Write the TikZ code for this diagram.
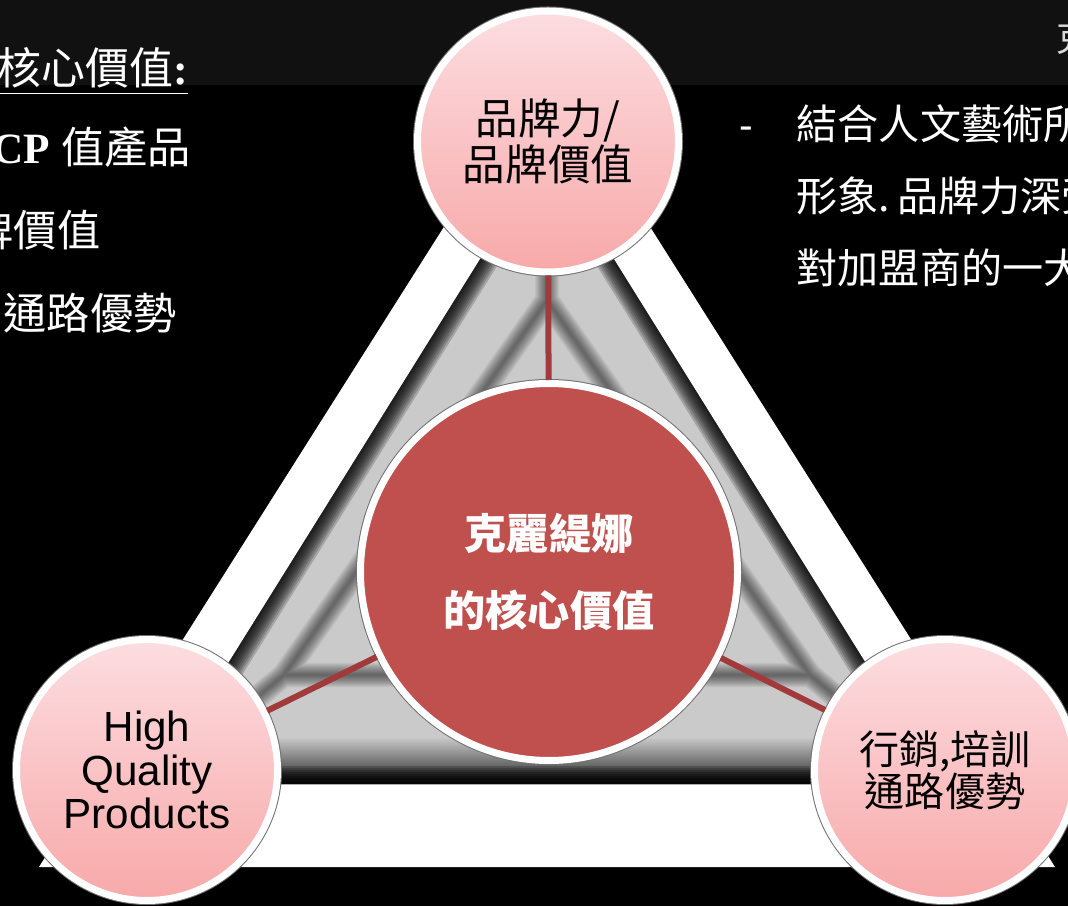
\documentclass[tikz,border=0pt]{standalone}
\usepackage{fontspec}
\setmainfont{Liberation Serif}
\setsansfont{Liberation Sans}
\newfontfamily\cjk{Noto Sans CJK TC}

\definecolor{band}{HTML}{111111}
\definecolor{bevel}{HTML}{CACACA}
\definecolor{pinktop}{HTML}{FCDDE1}
\definecolor{pinkbot}{HTML}{F8A9A9}
\definecolor{corered}{HTML}{C0504D}
\definecolor{linkred}{HTML}{A13B3B}
\definecolor{ringshade}{HTML}{707070}
\definecolor{titlegray}{HTML}{D9D9D9}

\begin{document}
\begin{tikzpicture}[
        petal/.style = {circle, minimum size=2.61cm, inner sep=0pt, align=center,
            top color=pinktop, bottom color=pinkbot, draw=white, line width=0.7mm,
            preaction={draw=ringshade, line width=0.9mm}},
        hub/.style = {circle, minimum size=3.77cm, inner sep=0pt, align=center,
            fill=corered, draw=white, line width=0.7mm, text=white,
            preaction={draw=ringshade, line width=0.9mm}},
        link/.style = {draw=linkred, line width=0.6mm},
        txt/.style = {anchor=base west, inner sep=0pt, text=white},
        desc/.style = {txt, font=\cjk\fontsize{11.7}{14}\selectfont}]
        \useasboundingbox (0,0) rectangle (10.68,9.06);
        \clip (0,0) rectangle (10.68,9.06);
        \fill[black] (0,0) rectangle (10.68,9.06);
        \fill[band] (0,8.21) rectangle (10.68,9.06);

        % white frame and grey bevelled triangle
        \fill[white] (0.39,0.39) -- (10.55,0.39) -- (5.47,8.42) -- cycle;
        \begin{scope}
            \clip (1.53,1.22) -- (9.41,1.22) -- (5.47,7.54) -- cycle;
            \fill[bevel] (0,0) rectangle (10.68,9.06);
            \shade[top color=bevel, bottom color=black!85] (0,1.22) rectangle (10.68,1.69);
            \foreach \w in {0.2,0.4,...,2.4}
                \draw[black, opacity=0.05, line width=\w mm, line join=round]
                    (2.84,2.31) -- (8.10,2.31) -- (5.47,6.06) -- cycle
                    (1.53,1.22) -- (2.84,2.31) (9.41,1.22) -- (8.10,2.31) (5.47,7.54) -- (5.47,6.06);
            \foreach \w in {0.4,0.8,...,4.0}
                \draw[black, opacity=0.18, line width=\w mm]
                    (1.53,1.22) -- (9.41,1.22) -- (5.47,7.54) -- cycle;
        \end{scope}

        \node[hub, font=\cjk\bfseries\fontsize{12}{21.9}\selectfont] (core) at (5.49,3.34) {克麗緹娜\\的核心價值};
        \node[petal, font=\cjk\fontsize{12.1}{12.3}\selectfont] (brand) at (5.48,7.645) {品牌力/\\品牌價值};
        \node[petal, font=\sffamily\fontsize{12}{12.4}\selectfont] (quality) at (1.47,1.36) {High\\Quality\\Products};
        \node[petal, font=\cjk\fontsize{11.4}{12}\selectfont] (channel) at (9.45,1.36) {行銷,培訓\\通路優勢};

        \draw[link] (core) -- (brand);
        \draw[link] (core) -- (quality);
        \draw[link] (core) -- (channel);

        % text left and right of the triangle
        \node[txt] (head) at (-0.03,8.21) {\fontsize{12.5}{15}\selectfont\underline{{\cjk 核心價值}\textbf{:}}};
        \node[txt] (val1) at (-0.08,7.42) {\fontsize{12.3}{15}\selectfont\textbf{CP} {\cjk 值產品}};
        \node[txt, font=\cjk\fontsize{12.3}{15}\selectfont] (val2) at (-0.30,6.59) {牌價值};
        \node[txt, font=\cjk\fontsize{12.3}{15}\selectfont] (val3) at (0.03,5.76) {通路優勢};

        \node[txt, font=\sffamily\fontsize{11.7}{14}\selectfont] (dash) at (7.39,7.66) {-};
        \node[desc] (desc1) at (7.96,7.66) {結合人文藝術所};
        \node[desc] (desc2) at (7.96,6.94) {形象.\,品牌力深受};
        \node[desc] (desc3) at (7.96,6.22) {對加盟商的一大};

        \node[txt, text=titlegray, font=\cjk\fontsize{10.2}{12}\selectfont] (title) at (10.56,8.54) {克};
    \end{tikzpicture}
\end{document}
